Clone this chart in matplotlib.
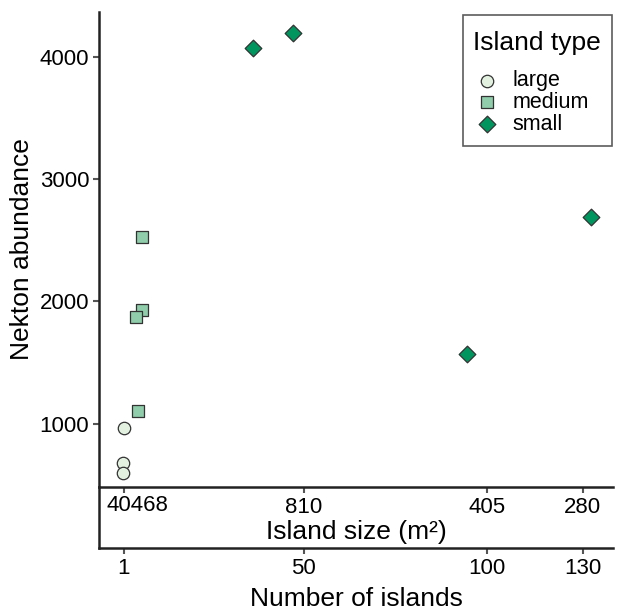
import matplotlib
matplotlib.use("Agg")
import matplotlib.pyplot as plt
from matplotlib.offsetbox import VPacker, DrawingArea

plt.rcParams["font.family"] = ["Liberation Sans", "DejaVu Sans"]

# data (x = number of islands, jittered)
LARGE_X = [1.0, 0.7, 0.7]
LARGE_Y = [964, 678, 596]
MEDIUM_X = [5.9, 5.9, 4.3, 4.8]
MEDIUM_Y = [2526, 1929, 1872, 1103]
SMALL_X = [36.2, 47.0, 94.5, 128.3]
SMALL_Y = [4071, 4194, 1568, 2689]

ISLANDS_TICKS = [1, 50, 100, 126]
ISLANDS_LABELS = ["1", "50", "100", "130"]
SIZE_LABELS = ["40468", "810", "405", "280"]
Y_TICKS = [1000, 2000, 3000, 4000]

COL_LARGE = "#e3f1e1"
COL_MEDIUM = "#8fcdab"
COL_SMALL = "#00955f"
EDGE = "#333333"
SPINE = "#222222"
TICKC = "#555555"
XLIM = (-5.8, 134.3)

fig = plt.figure(figsize=(6.17, 6.10), dpi=100)
left, right = 99 / 617, 613 / 617
ax = fig.add_axes([left, 1 - 487 / 610, right - left, (487 - 12) / 610])
ax2 = fig.add_axes([left, 1 - 548 / 610, right - left, (548 - 487) / 610])

ax.scatter(LARGE_X, LARGE_Y, s=80, marker="o", c=COL_LARGE, edgecolors=EDGE,
           linewidths=0.9, label="large", zorder=3)
ax.scatter(MEDIUM_X, MEDIUM_Y, s=66, marker="s", c=COL_MEDIUM, edgecolors=EDGE,
           linewidths=0.9, label="medium", zorder=3)
ax.scatter(SMALL_X, SMALL_Y, s=72, marker="D", c=COL_SMALL, edgecolors=EDGE,
           linewidths=0.9, label="small", zorder=3)

ax.set_xlim(*XLIM)
ax.set_ylim(482, 4365)
ax.set_yticks(Y_TICKS)
ax.set_xticks(ISLANDS_TICKS)
ax.set_xticklabels([""] + SIZE_LABELS[1:])
ax.annotate(SIZE_LABELS[0], xy=(ISLANDS_TICKS[0], 0), xycoords=ax.get_xaxis_transform(),
            xytext=(-12.5, -5.5), textcoords="offset points", ha="left", va="top",
            fontsize=16, color="black")
ax.set_xlabel("Island size (m²)", fontsize=19, labelpad=1.5)
ax.set_ylabel("Nekton abundance", fontsize=19, labelpad=4)

for a in (ax, ax2):
    for s in ("top", "right"):
        a.spines[s].set_visible(False)
    for s in ("left", "bottom"):
        a.spines[s].set_linewidth(1.8)
        a.spines[s].set_color(SPINE)
    a.tick_params(axis="both", length=4, width=1.5, color=TICKC, labelsize=16,
                  pad=3)

ax2.set_xlim(*XLIM)
ax2.set_yticks([])
ax2.set_xticks(ISLANDS_TICKS)
ax2.set_xticklabels(ISLANDS_LABELS)
ax2.set_xlabel("Number of islands", fontsize=19, labelpad=6)
ax2.patch.set_alpha(0)

leg = ax.legend(title="Island type", loc="upper right", bbox_to_anchor=(0.998, 0.994),
                borderaxespad=0, fancybox=False, edgecolor=EDGE, fontsize=15.5,
                title_fontsize=19, alignment="left", handletextpad=0.5,
                labelspacing=0.03, borderpad=0.5, handlelength=1.3)
leg.get_frame().set_linewidth(1.2)
# push the title down a little, like the reference
title_box = leg._legend_box._children[0]
leg._legend_box._children[0] = VPacker(children=[DrawingArea(0, 4), title_box],
                                       pad=0, sep=0, align="left")
leg._legend_box.sep = 11

fig.savefig("out.png", dpi=100)
